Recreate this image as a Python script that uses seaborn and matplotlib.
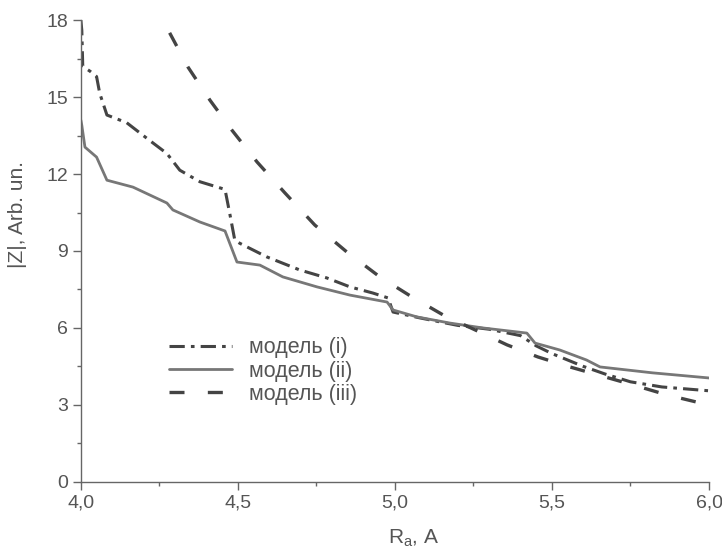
import matplotlib
matplotlib.use("Agg")
import matplotlib.pyplot as plt
import matplotlib.ticker as mticker
import seaborn as sns

# model (i) - dash-dot curve
x_i = [4.0, 4.003, 4.006, 4.03, 4.05, 4.06, 4.083, 4.146, 4.22, 4.274, 4.315,
       4.379, 4.459, 4.475, 4.49, 4.506, 4.592, 4.697, 4.783, 4.857, 4.93,
       4.978, 4.994, 5.08, 5.2, 5.3, 5.4, 5.45, 5.5, 5.55, 5.6, 5.67, 5.75,
       5.85, 5.95, 6.0]
z_i = [18.0, 17.6, 16.2, 16.0, 15.8, 15.15, 14.3, 14.0, 13.3, 12.8, 12.15,
       11.7, 11.4, 10.4, 9.43, 9.3, 8.77, 8.26, 7.95, 7.6, 7.36,
       7.17, 6.62, 6.39, 6.1, 5.95, 5.7, 5.3, 5.0, 4.75, 4.5, 4.2, 3.9,
       3.7, 3.6, 3.55]

# model (ii) - solid curve
x_ii = [4.0, 4.003, 4.013, 4.05, 4.083, 4.166, 4.274, 4.293, 4.379, 4.459,
        4.497, 4.57, 4.643, 4.752, 4.857, 4.975, 4.994, 5.07, 5.175, 5.28,
        5.42, 5.446, 5.525, 5.61, 5.653, 5.82, 6.0]
z_ii = [14.1, 13.9, 13.05, 12.66, 11.76, 11.49, 10.87, 10.6, 10.13, 9.78,
        8.57, 8.45, 7.99, 7.6, 7.28, 7.01, 6.7, 6.43, 6.19, 6.0,
        5.8, 5.41, 5.14, 4.75, 4.48, 4.25, 4.05]

# model (iii) - dashed curve
x_iii = [4.2, 4.261, 4.341, 4.411, 4.481, 4.561, 4.65, 4.745, 4.847, 4.952,
         5.054, 5.153, 5.357, 5.455, 5.557, 5.758, 5.866, 5.971]
z_iii = [19.4, 18.0, 16.17, 14.88, 13.71, 12.47, 11.26, 10.01, 8.96, 7.99,
         7.21, 6.51, 5.34, 4.87, 4.48, 3.78, 3.39, 3.08]

labels = ["модель (i)", "модель (ii)", "модель (iii)"]

sns.set_theme(style="ticks")
plt.rcParams["font.family"] = ["Liberation Sans", "DejaVu Sans"]
plt.rcParams["mathtext.default"] = "regular"

text_c = "#555555"
fig, ax = plt.subplots(figsize=(7.22, 5.59), dpi=100)
fig.subplots_adjust(left=0.112, right=0.982, bottom=0.138, top=0.964)

sns.lineplot(x=x_i, y=z_i, ax=ax, sort=False, estimator=None, color="#444444",
             linewidth=2.2, linestyle=(0, (5, 2, 1.2, 2)), label=labels[0])
sns.lineplot(x=x_ii, y=z_ii, ax=ax, sort=False, estimator=None, color="#777777",
             linewidth=2.0, label=labels[1])
sns.lineplot(x=x_iii, y=z_iii, ax=ax, sort=False, estimator=None, color="#444444",
             linewidth=2.4, linestyle=(0, (4.5, 7)), label=labels[2])

ax.set_xlim(4.0, 6.0)
ax.set_ylim(0, 18)
ax.xaxis.set_major_locator(mticker.MultipleLocator(0.5))
ax.xaxis.set_minor_locator(mticker.MultipleLocator(0.25))
ax.yaxis.set_major_locator(mticker.MultipleLocator(3))
ax.yaxis.set_minor_locator(mticker.MultipleLocator(1.5))
ax.xaxis.set_major_formatter(mticker.FuncFormatter(lambda v, p: f"{v:.1f}".replace(".", ",")))

sns.despine(ax=ax)
for s in ["left", "bottom"]:
    ax.spines[s].set_color("#666666")
    ax.spines[s].set_linewidth(1.0)
ax.tick_params(which="major", direction="out", length=6, width=1, colors="#666666",
               labelcolor=text_c, labelsize=14, pad=3)
ax.tick_params(which="minor", direction="out", length=3, width=1, colors="#666666")

ax.set_xlabel("R$_a$, A", fontsize=15, color=text_c)
ax.set_ylabel("|Z|, Arb. un.", fontsize=15, color=text_c)
ax.yaxis.set_label_coords(-0.085, 0.58)
ax.xaxis.set_label_coords(0.53, -0.1)

ax.legend(loc="center left", bbox_to_anchor=(0.11, 0.24), frameon=False,
          fontsize=15.5, labelcolor=text_c, handlelength=2.9, handletextpad=0.8,
          labelspacing=0.1)

fig.savefig("out.png", dpi=100)
